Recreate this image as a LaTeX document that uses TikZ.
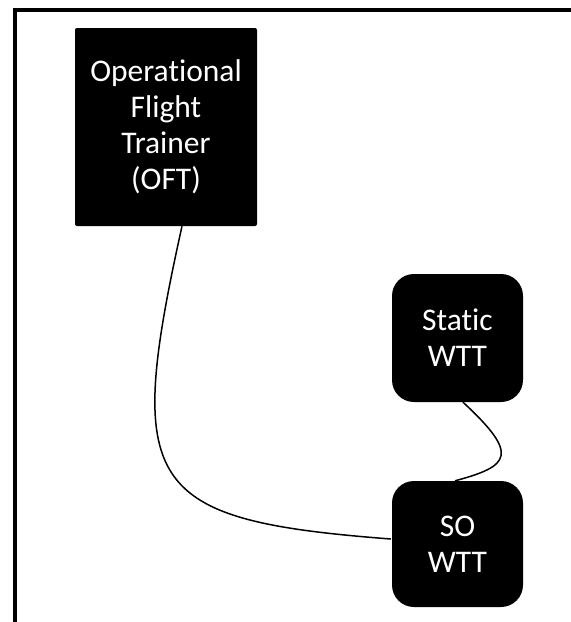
\documentclass[tikz,border=0pt]{standalone}
\usepackage{fontspec}
\setmainfont{Carlito}[Ligatures=NoCommon]
\begin{document}
\begin{tikzpicture}[x=1pt,y=-1pt,
  block/.style={fill=black,text=white,align=center,inner sep=0pt,
    font=\fontsize{31.5}{36}\selectfont},
  link/.style={draw=black,line width=1.5pt}]
\useasboundingbox (0,0) rectangle (571,622);
% open frame: top and left edges
\draw[line width=4pt] (15,622) -- (15,10) -- (571,10);
% blocks
\node[block,minimum width=182pt,minimum height=198pt,rounded corners=2pt]
  (oft) at (166,127) {Operational\\Flight\\Trainer\\(OFT)};
\node[block,minimum width=131pt,minimum height=128pt,rounded corners=22pt]
  (static) at (457.5,338) {Static\\WTT};
\node[block,minimum width=131pt,minimum height=126pt,rounded corners=22pt]
  (so) at (457.5,544) {SO\\WTT};
% connectors
\draw[link] ([xshift=16pt]oft.south) .. controls (124,488) and (144,520) .. ([xshift=-1pt,yshift=5pt]so.west);
\draw[link] ([xshift=5.5pt]static.south) .. controls (520,455) and (510,466) .. ([xshift=-2.5pt]so.north);
\end{tikzpicture}
\end{document}
